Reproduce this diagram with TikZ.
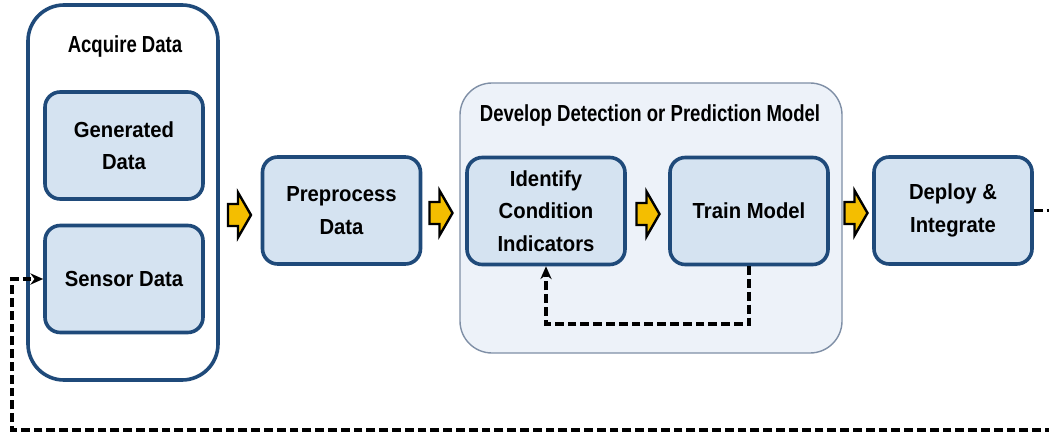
\documentclass[tikz,border=0pt]{standalone}
\usepackage{fontspec}
\setmainfont{Liberation Sans}[FakeStretch=0.93]
\newfontfamily\titlefont{Liberation Sans}[FakeStretch=0.8]
\usetikzlibrary{arrows.meta,calc}

\definecolor{navy}{HTML}{1F4A7A}
\definecolor{boxfill}{HTML}{D5E3F1}
\definecolor{groupfill}{HTML}{EDF2F9}
\definecolor{groupline}{HTML}{7F8FA6}
\definecolor{flowyellow}{HTML}{F4BE00}

\tikzset{
  stagebox/.style={draw=navy, line width=0.9mm, fill=boxfill, rounded corners=3.8mm,
    minimum width=39.5mm, minimum height=26.75mm, align=center, inner sep=1mm,
    font=\bfseries\fontsize{15.5}{23}\selectfont},
  outerbox/.style={draw=navy, line width=0.9mm, fill=white, rounded corners=9mm,
    minimum width=47.5mm, minimum height=93.75mm},
  groupbox/.style={draw=groupline, line width=0.35mm, fill=groupfill, rounded corners=8mm,
    minimum width=95.5mm, minimum height=67.5mm},
  titletext/.style={font=\titlefont\bfseries\fontsize{16.5}{20}\selectfont},
  % block arrow between stages, drawn in picture units around its origin
  flowarrow/.pic={
    \draw[draw=black, line width=0.6mm, fill=flowyellow, line join=miter]
      (-11.5,-11) -- (-1.5,-11) -- (-1.5,-22.5) -- (11.5,0) -- (-1.5,22.5)
      -- (-1.5,11) -- (-11.5,11) -- cycle;
  },
  feedback/.style={draw=black, line width=0.85mm, dash pattern=on 2.2mm off 1mm,
    -{Stealth[length=3.2mm,width=2.8mm]}}
}

\begin{document}
\begin{tikzpicture}[x=0.25mm,y=-0.25mm]
  \useasboundingbox (0,0) rectangle (1049,435);
  \clip (0,0) rectangle (1049,435);

  % acquisition stage
  \node[outerbox] (acq) at (123,192.5) {};
  \node[titletext] (acqtitle) at (125,46.5) {Acquire Data};
  \node[stagebox] (gen) at (124,145.5) {Generated\\Data};
  \node[stagebox] (sen) at (124,279) {Sensor Data};

  % preprocessing
  \node[stagebox] (pre) at (341.5,210.5) {Preprocess\\Data};

  % model development group
  \node[groupbox] (dev) at (651,218) {};
  \node[titletext] (devtitle) at (650,116) {Develop Detection or Prediction Model};
  \node[stagebox] (idc) at (546,211) {Identify\\Condition\\Indicators};
  \node[stagebox] (trn) at (749,211) {Train Model};

  % deployment
  \node[stagebox] (dep) at (953,210.5) {Deploy \&\\Integrate};

  % flow arrows between stages
  \pic (f1) at (239.5,215) {flowarrow};
  \pic (f2) at (441,213) {flowarrow};
  \pic (f3) at (648,214) {flowarrow};
  \pic (f4) at (856,213) {flowarrow};

  % feedback loops
  \coordinate (loopbottom) at (0,324);
  \draw[feedback] (trn.south) -- (trn.south |- loopbottom) -- (idc.south |- loopbottom) -- (idc.south);

  \coordinate (outright) at (1062,0);
  \coordinate (outbottom) at (0,430);
  \coordinate (outleft) at (12,0);
  \draw[feedback] (dep.east) -- (dep.east -| outright) -- (outright |- outbottom)
    -- (outleft |- outbottom) -- (outleft |- sen.west) -- (sen.west);
\end{tikzpicture}
\end{document}
